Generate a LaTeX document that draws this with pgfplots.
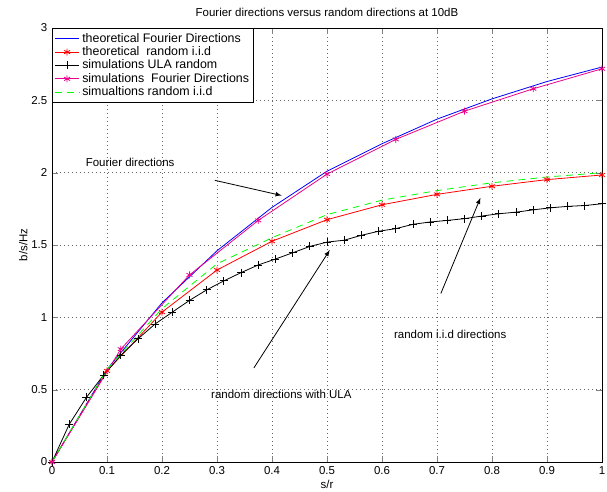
\documentclass[border=0pt]{standalone}
\usepackage{fontspec}
\setmainfont{Liberation Sans}
\usepackage{pgfplots}
\pgfplotsset{compat=1.18}
\begin{document}
\begin{tikzpicture}
\begin{axis}[
  scale only axis,
  width=412.5pt, height=325.5pt,
  xmin=0, xmax=1, ymin=0, ymax=3,
  xtick={0,0.1,...,1.01}, ytick={0,0.5,...,3.01},
  tick align=inside,
  grid=major,
  major grid style={black!60, dash pattern=on 0.6pt off 2.4pt},
  axis line style={black, line width=0.6pt},
  font=\fontsize{8.6}{10}\selectfont,
  /pgf/number format/assume math mode=true,
  title={Fourier directions versus random directions at 10dB},
  title style={yshift=-1pt},
  xlabel={s/r}, ylabel={b/s/Hz},
  xlabel style={yshift=3pt},
  ylabel style={yshift=-4pt},
  legend cell align=left,
  legend style={at={(0,1)}, anchor=north west, draw=black, line width=0.8pt, font=\fontsize{9.3}{10}\selectfont, row sep=-2.2pt, inner sep=1.5pt},
  legend image code/.code={\draw[mark repeat=2,mark phase=2,line width=0.6pt] plot coordinates {(0cm,0cm) (0.32cm,0cm) (0.64cm,0cm)};},
]
\addplot[blue, line width=0.6pt] coordinates {(0,0) (0.1,0.64) (0.2,1.10) (0.3,1.46) (0.4,1.76) (0.5,2.01) (0.6,2.20) (0.7,2.37) (0.8,2.51) (0.9,2.63) (1.0,2.73)};
\addlegendentry{theoretical Fourier Directions}
\addplot[red, line width=0.6pt, mark=asterisk, mark size=2.6pt] coordinates {(0,0) (0.1,0.63) (0.2,1.036) (0.3,1.327) (0.4,1.526) (0.5,1.675) (0.6,1.778) (0.7,1.85) (0.8,1.906) (0.9,1.952) (1.0,1.984)};
\addlegendentry{theoretical\ \ random i.i.d}
\addplot[black, line width=0.6pt, mark=+, mark size=3pt] coordinates {(0,0) (0.03125,0.26) (0.0625,0.446) (0.09375,0.60) (0.125,0.737) (0.15625,0.851) (0.1875,0.954) (0.21875,1.036) (0.25,1.117) (0.28125,1.19) (0.3125,1.252) (0.34375,1.309) (0.375,1.362) (0.40625,1.403) (0.4375,1.446) (0.46875,1.49) (0.5,1.52) (0.53125,1.533) (0.5625,1.567) (0.59375,1.595) (0.625,1.613) (0.65625,1.643) (0.6875,1.659) (0.71875,1.67) (0.75,1.682) (0.78125,1.70) (0.8125,1.716) (0.84375,1.727) (0.875,1.743) (0.90625,1.757) (0.9375,1.767) (0.96875,1.773) (1.0,1.785)};
\addlegendentry{simulations ULA random}
\addplot[magenta, line width=0.6pt, mark=asterisk, mark size=2.6pt] coordinates {(0,0) (0.125,0.78) (0.25,1.293) (0.375,1.67) (0.5,1.99) (0.625,2.23) (0.75,2.425) (0.875,2.58) (1.0,2.718)};
\addlegendentry{simulations\ \ Fourier Directions}
\addplot[green, line width=0.6pt, dash pattern=on 5pt off 4pt] coordinates {(0,0) (0.1,0.64) (0.2,1.06) (0.3,1.37) (0.4,1.55) (0.5,1.71) (0.6,1.81) (0.7,1.876) (0.8,1.93) (0.9,1.97) (1.0,2.0)};
\addlegendentry{simualtions random i.i.d}
\node[font=\fontsize{8.6}{10}\selectfont] at (axis cs:0.142,2.07) {Fourier directions};
\node[font=\fontsize{8.6}{10}\selectfont] at (axis cs:0.724,0.88) {random i.i.d directions};
\node[font=\fontsize{8.6}{10}\selectfont] at (axis cs:0.417,0.47) {random directions with ULA};
\draw[-latex, line width=0.6pt] (axis cs:0.296,1.947) -- (axis cs:0.4176,1.842);
\draw[-latex, line width=0.6pt] (axis cs:0.707,1.165) -- (axis cs:0.779,1.826);
\draw[-latex, line width=0.6pt] (axis cs:0.367,0.65) -- (axis cs:0.505,1.465);
\end{axis}
\pgfresetboundingbox
\path ([shift={(-39pt,-22.5pt)}]current axis.south west) rectangle ([shift={(3.75pt,21pt)}]current axis.north east);
\end{tikzpicture}
\end{document}
